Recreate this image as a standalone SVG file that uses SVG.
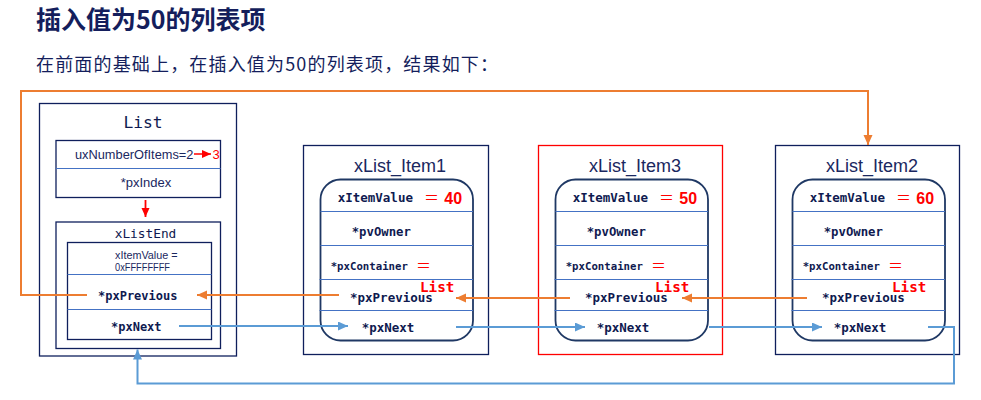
<svg xmlns="http://www.w3.org/2000/svg" width="981" height="400" viewBox="0 0 981 400">
<defs>
<style>
.bg{fill:#ffffff}
.box{fill:none;stroke:#0f1f5c;stroke-width:1.3}
.rbox{fill:none;stroke:#ff0000;stroke-width:1.3}
.rr{fill:none;stroke:#1f3864;stroke-width:1.8}
.div{stroke:#4472c4;stroke-width:1.2}
.cn{font-family:"Noto Sans CJK SC","Noto Sans",sans-serif;fill:#141e5c}
.sans{font-family:"Liberation Sans",Arial,sans-serif;fill:#1a2760}
.mono{font-family:"DejaVu Sans Mono","Liberation Mono",monospace;fill:#0f1a50}
.b{font-weight:bold}
.red{fill:#ff0000}
.or{fill:none;stroke:#ed7d31;stroke-width:2}
.bl{fill:none;stroke:#5b9bd5;stroke-width:2}
</style>
<marker id="ao" markerUnits="userSpaceOnUse" markerWidth="11" markerHeight="10" refX="10" refY="4.5" orient="auto"><path d="M0,0 L10,4.5 L0,9 z" fill="#ed7d31"/></marker>
<marker id="ab" markerUnits="userSpaceOnUse" markerWidth="11" markerHeight="10" refX="10" refY="4.5" orient="auto"><path d="M0,0 L10,4.5 L0,9 z" fill="#5b9bd5"/></marker>
<marker id="ar" markerUnits="userSpaceOnUse" markerWidth="11" markerHeight="10" refX="9" refY="4" orient="auto"><path d="M0,0 L9,4 L0,8 z" fill="#ff0000"/></marker>
<g id="itemTpl">
<rect class="rr" x="320.5" y="179.5" width="152.5" height="161" rx="20"/>
<line class="div" x1="320.5" y1="211.5" x2="473" y2="211.5"/>
<line class="div" x1="320.5" y1="245.5" x2="473" y2="245.5"/>
<line class="div" x1="319.5" y1="279.5" x2="473" y2="279.5"/>
<line class="div" x1="319.5" y1="310.5" x2="473" y2="310.5"/>
<text class="mono b" x="337.7" y="201.5" font-size="12.5">xItemValue</text>
<text class="cn red" x="424" y="203" font-size="15">＝</text>
<text class="mono b" x="351.7" y="235.7" font-size="12.3">*pvOwner</text>
<text class="mono b" x="330.7" y="269.7" font-size="10.7">*pxContainer</text>
<text class="cn red" x="416" y="271" font-size="15">＝</text>
<text class="mono b red" x="420" y="291.7" font-size="14.3">List</text>
<text class="mono b" x="350" y="302.3" font-size="12.5">*pxPrevious</text>
<text class="mono b" x="361.7" y="331.7" font-size="12.5">*pxNext</text>
</g>
</defs>
<rect class="bg" x="0" y="0" width="981" height="400"/>
<text class="cn b" x="36" y="29" font-size="25">插入值为50的列表项</text>
<text class="cn" x="36" y="71" font-size="18" textLength="462" lengthAdjust="spacing">在前面的基础上，在插入值为50的列表项，结果如下：</text>

<g id="List">
<rect class="box" x="39.5" y="103.5" width="197" height="252.5"/>
<text class="mono" x="143" y="128" font-size="16.3" text-anchor="middle">List</text>
<rect class="box" x="56" y="140.5" width="164.5" height="57"/>
<line class="div" x1="56" y1="168.5" x2="220.5" y2="168.5"/>
<text class="sans" x="75" y="159" font-size="12.8">uxNumberOfItems=2</text>
<line x1="194" y1="154" x2="211" y2="154" stroke="#ff0000" stroke-width="1.5" marker-end="url(#ar)"/>
<text class="sans red" x="212.5" y="159" font-size="13">3</text>
<text class="sans" x="146" y="187.3" font-size="13" text-anchor="middle">*pxIndex</text>
<line x1="145.5" y1="200" x2="145.5" y2="217" stroke="#ff0000" stroke-width="1.8" marker-end="url(#ar)"/>
</g>
<g id="xListEnd">
<rect class="box" x="56" y="222" width="164.5" height="126.5"/>
<text class="mono" x="145.5" y="237.7" font-size="12.8" text-anchor="middle">xListEnd</text>
<rect class="box" x="67.5" y="242.5" width="144" height="97"/>
<line class="div" x1="67.5" y1="274.5" x2="211.5" y2="274.5"/>
<line class="div" x1="67.5" y1="309.5" x2="211.5" y2="309.5"/>
<text class="sans" x="115" y="259" font-size="10.8">xItemValue =</text>
<text class="sans" x="115" y="271" font-size="10.8" textLength="55" lengthAdjust="spacingAndGlyphs">0xFFFFFFFF</text>
<text class="mono b" x="98" y="300" font-size="12">*pxPrevious</text>
<text class="mono b" x="111" y="330.5" font-size="12">*pxNext</text>
</g>

<g id="xList_Item1">
<rect class="box" x="303.5" y="145.5" width="185" height="209"/>
<text class="sans" x="400" y="171.5" font-size="18" text-anchor="middle">xList_Item1</text>
<use href="#itemTpl"/>
<text class="sans b red" x="444.3" y="204" font-size="16">40</text>
</g>
<g id="xList_Item3">
<rect class="rbox" x="538.5" y="145.5" width="184" height="209"/>
<text class="sans" x="635" y="171.5" font-size="18" text-anchor="middle">xList_Item3</text>
<use href="#itemTpl" transform="translate(235,0)"/>
<text class="sans b red" x="679.3" y="204" font-size="16">50</text>
</g>
<g id="xList_Item2">
<rect class="box" x="775.5" y="145.5" width="184" height="209"/>
<text class="sans" x="872" y="171.5" font-size="18" text-anchor="middle">xList_Item2</text>
<use href="#itemTpl" transform="translate(472,0)"/>
<text class="sans b red" x="916.3" y="204" font-size="16">60</text>
</g>

<g id="connectors">
<polyline class="or" points="87,295 21,295 21,91 868,91 868,145" marker-end="url(#ao)"/>
<line class="or" x1="339" y1="295" x2="197" y2="295" marker-end="url(#ao)"/>
<line class="or" x1="570" y1="298" x2="456" y2="298" marker-end="url(#ao)"/>
<line class="or" x1="807" y1="298" x2="682" y2="298" marker-end="url(#ao)"/>
<line class="bl" x1="179" y1="326" x2="348" y2="326" marker-end="url(#ab)"/>
<line class="bl" x1="456" y1="327" x2="585" y2="327" marker-end="url(#ab)"/>
<line class="bl" x1="709" y1="327" x2="822" y2="327" marker-end="url(#ab)"/>
<polyline class="bl" points="928,327 954,327 954,383.5 137.5,383.5 137.5,349.5" marker-end="url(#ab)"/>
</g>
</svg>
